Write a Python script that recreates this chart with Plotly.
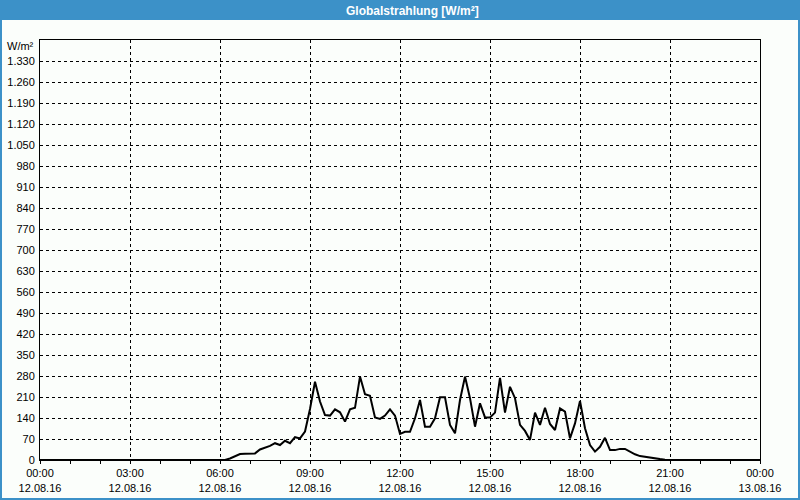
import plotly.graph_objects as go
import pandas as pd

# ---- data (10-minute samples, W/m²) ----
zeros_night_before = [0] * 36          # 00:00 .. 05:50
day_values = [
    0, 0, 5, 12, 20, 21, 21, 22, 35, 40,
    47, 56, 50, 64, 56, 76, 72, 95, 170, 261,
    195, 150, 148, 169, 159, 128, 169, 174, 278, 219,
    214, 142, 137, 148, 169, 148, 87, 94, 94, 139,
    200, 111, 111, 139, 209, 209, 117, 89, 200, 278,
    206, 111, 189, 142, 142, 158, 274, 158, 244, 206,
    117, 97, 67, 158, 117, 174, 120, 100, 172, 161,
    72, 122, 197, 106, 50, 28, 44, 74, 33, 33,
    37, 37, 28, 19, 13, 10, 9, 6, 3, 1,
    0,
]                                       # 06:00 .. 21:00
zeros_night_after = [0] * 18           # 21:10 .. 24:00
values = zeros_night_before + day_values + zeros_night_after
times = pd.date_range("2016-08-12 00:00", periods=len(values), freq="10min")

x_tickvals = ["2016-08-12 00:00", "2016-08-12 03:00", "2016-08-12 06:00", "2016-08-12 09:00",
              "2016-08-12 12:00", "2016-08-12 15:00", "2016-08-12 18:00", "2016-08-12 21:00",
              "2016-08-13 00:00"]
x_ticktext = ["00:00<br>12.08.16", "03:00<br>12.08.16", "06:00<br>12.08.16", "09:00<br>12.08.16",
              "12:00<br>12.08.16", "15:00<br>12.08.16", "18:00<br>12.08.16", "21:00<br>12.08.16",
              "00:00<br>13.08.16"]
y_tickvals = [0, 70, 140, 210, 280, 350, 420, 490, 560, 630, 700, 770, 840, 910, 980,
              1050, 1120, 1190, 1260, 1330]
y_ticktext = ["0", "70", "140", "210", "280", "350", "420", "490", "560", "630", "700",
              "770", "840", "910", "980", "1.050", "1.120", "1.190", "1.260", "1.330"]

title_text = "Globalstrahlung [W/m²]"
unit_text = "W/m²"

BLUE = "#3C91C8"
BG = "#FBFEFB"
FONT = "Liberation Sans"

fig = go.Figure()
fig.add_trace(go.Scatter(x=times, y=values, mode="lines",
                         line=dict(color="black", width=2), hoverinfo="skip"))

W, H = 800, 500
L, R, T, B = 40, 40, 40, 40
pw, ph = W - L - R, H - T - B

fig.update_layout(
    width=W, height=H,
    margin=dict(l=L, r=R, t=T, b=B, autoexpand=False),
    paper_bgcolor=BG, plot_bgcolor=BG,
    showlegend=False,
    font=dict(family=FONT, size=11, color="black"),
    xaxis=dict(
        type="date", automargin=False,
        range=["2016-08-12 00:00", "2016-08-13 00:00"],
        tickvals=x_tickvals, ticktext=x_ticktext,
        ticks="outside", ticklen=3, tickcolor="black",
        showgrid=True, gridcolor="black", griddash="3px,3px", gridwidth=1,
        showline=True, linecolor="black", linewidth=1, mirror=True,
        zeroline=False,
        minor=dict(dtick=3600000, ticks="outside", ticklen=3, tickcolor="black", showgrid=False),
        tickfont=dict(family=FONT, size=11, color="black"),
    ),
    yaxis=dict(
        range=[0, 1400], automargin=False,
        tickvals=y_tickvals, ticktext=y_ticktext,
        ticks="", ticklabelstandoff=2,
        showgrid=True, gridcolor="black", griddash="3px,3px", gridwidth=1,
        showline=True, linecolor="black", linewidth=1, mirror=True,
        zeroline=False,
        tickfont=dict(family=FONT, size=11, color="black"),
    ),
    shapes=[
        dict(type="rect", xref="paper", yref="paper",
             x0=-L / pw - 0.01, x1=1 + R / pw + 0.01,
             y0=1 + (T - 20) / ph, y1=1 + T / ph + 0.01,
             fillcolor=BLUE, line=dict(width=0), layer="below"),
        dict(type="rect", xref="paper", yref="paper",
             x0=-L / pw, x1=1 + R / pw,
             y0=-B / ph, y1=1 + T / ph,
             fillcolor="rgba(0,0,0,0)", line=dict(color=BLUE, width=4)),
    ],
    annotations=[
        dict(text="<b>" + title_text + "</b>", xref="paper", yref="paper",
             x=(412 - L) / pw, y=1 + (T - 10.5) / ph, xanchor="center", yanchor="middle",
             showarrow=False, font=dict(family=FONT, size=12, color="white")),
        dict(text=unit_text, xref="paper", yref="paper",
             x=0, y=1 - 6 / ph, xanchor="right", yanchor="middle", xshift=-4,
             showarrow=False, font=dict(family=FONT, size=11, color="black")),
    ],
)

fig.write_html("out.html")
